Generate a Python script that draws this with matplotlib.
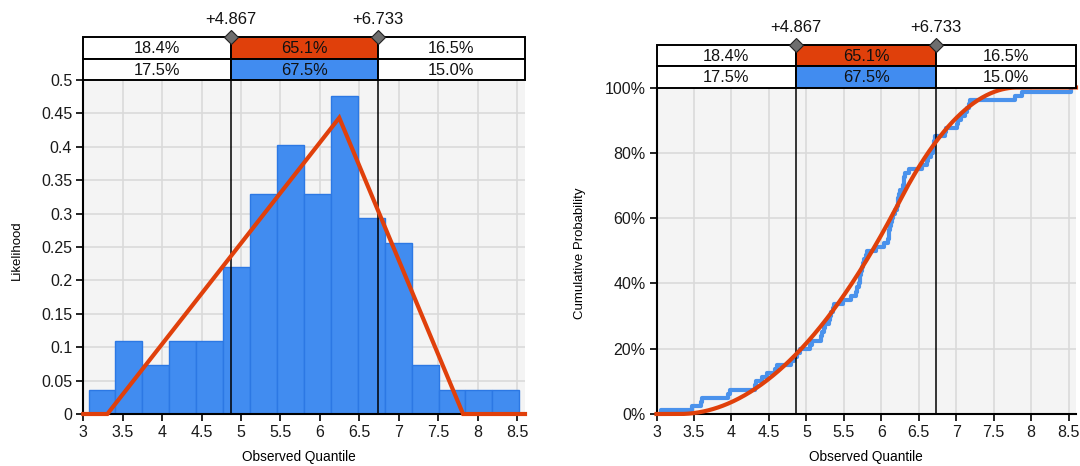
import numpy as np
import matplotlib
matplotlib.use("Agg")
import matplotlib.pyplot as plt
from matplotlib.patches import Rectangle
from matplotlib.transforms import blended_transform_factory

plt.rcParams["font.family"] = ["Liberation Sans", "DejaVu Sans"]

# Observed sample (sorted)
observed = [
    3.066,
    3.48, 3.59, 3.61,
    3.95, 3.98,
    4.31, 4.33, 4.41,
    4.47, 4.58, 4.61,
    4.80, 4.83, 4.88, 4.92, 5.05, 5.08,
    5.19, 5.21, 5.24, 5.25, 5.30, 5.32, 5.33, 5.35, 5.37,
    5.49, 5.60, 5.66, 5.67, 5.70, 5.71, 5.72, 5.73, 5.74, 5.75, 5.77,
    5.80, 5.81, 5.93, 6.04, 6.09, 6.10, 6.11, 6.12, 6.13,
    6.15, 6.16, 6.19, 6.21, 6.22, 6.23, 6.24, 6.25, 6.29, 6.30, 6.31, 6.32, 6.37,
    6.55, 6.61, 6.63, 6.67, 6.69, 6.70, 6.71, 6.72,
    6.85, 6.87, 7.01, 7.03, 7.06, 7.12, 7.14,
    7.17, 7.19,
    7.79,
    7.88,
    8.528,
]
n_bins = 16

# Fitted triangular distribution
tri_lower = 3.305
tri_mode = 6.245
tri_upper = 7.815

# Delimiters and probability bands
bounds = [4.867, 6.733]
bound_labels = ["+4.867", "+6.733"]
fitted_pct = ["18.4%", "65.1%", "16.5%"]
empirical_pct = ["17.5%", "67.5%", "15.0%"]

x_ticks = [3, 3.5, 4, 4.5, 5, 5.5, 6, 6.5, 7, 7.5, 8, 8.5]
x_tick_labels = ["3", "3.5", "4", "4.5", "5", "5.5", "6", "6.5", "7", "7.5", "8", "8.5"]
pdf_ticks = [0, 0.05, 0.1, 0.15, 0.2, 0.25, 0.3, 0.35, 0.4, 0.45, 0.5]
pdf_tick_labels = ["0", "0.05", "0.1", "0.15", "0.2", "0.25", "0.3", "0.35", "0.4", "0.45", "0.5"]
cdf_ticks = [0, 0.2, 0.4, 0.6, 0.8, 1.0]
cdf_tick_labels = ["0%", "20%", "40%", "60%", "80%", "100%"]

RED = "#e0400b"
BLUE = "#418cf0"
BLUE_EDGE = "#2c78e4"
STEP_BLUE = "#4a92ec"
BG = "#f4f4f4"
GRID = "#dadada"
XMIN, XMAX = 3.0, 8.6


def tri_pdf(x):
    x = np.asarray(x, dtype=float)
    a, c, b = tri_lower, tri_mode, tri_upper
    y = np.zeros_like(x)
    up = (x >= a) & (x <= c)
    dn = (x > c) & (x <= b)
    y[up] = 2 * (x[up] - a) / ((b - a) * (c - a))
    y[dn] = 2 * (b - x[dn]) / ((b - a) * (b - c))
    return y


def tri_cdf(x):
    x = np.asarray(x, dtype=float)
    a, c, b = tri_lower, tri_mode, tri_upper
    y = np.where(x <= a, 0.0, 1.0)
    up = (x > a) & (x <= c)
    dn = (x > c) & (x < b)
    y[up] = (x[up] - a) ** 2 / ((b - a) * (c - a))
    y[dn] = 1 - (b - x[dn]) ** 2 / ((b - a) * (b - c))
    return y


W, H = 1080, 466
fig = plt.figure(figsize=(W / 100, H / 100), dpi=100)


def px_axes(left, top, right, bottom):
    return fig.add_axes([left / W, 1 - bottom / H, (right - left) / W, (bottom - top) / H])


ax1 = px_axes(83.3, 80, 525, 414)
ax2 = px_axes(656.5, 87.5, 1076, 414)


def style_axes(ax, yticks, ylabels, ylim):
    ax.set_facecolor(BG)
    ax.set_xlim(XMIN, XMAX)
    ax.set_ylim(*ylim)
    ax.set_xticks(x_ticks)
    ax.set_xticklabels(x_tick_labels)
    ax.set_yticks(yticks)
    ax.set_yticklabels(ylabels)
    ax.grid(True, color=GRID, linewidth=1.2)
    ax.set_axisbelow(True)
    for s in ("top", "right"):
        ax.spines[s].set_visible(False)
    for s in ("left", "bottom"):
        ax.spines[s].set_linewidth(1.5)
        ax.spines[s].set_color("black")
        ax.spines[s].set_zorder(6)
    ax.tick_params(axis="both", direction="out", length=5, width=1.2,
                   labelsize=11.5, colors="black", labelcolor="#1a1a1a", pad=3)


def band_boxes(ax):
    bbox = ax.get_position()
    ax_h_px = bbox.height * H
    row = 21.3 / ax_h_px
    tr = blended_transform_factory(ax.transData, ax.transAxes)
    edges = [XMIN, bounds[0], bounds[1], XMAX]
    rows = [(1 + row, fitted_pct, RED), (1, empirical_pct, BLUE)]
    for y0, labels, fill in rows:
        for i in range(3):
            fc = fill if i == 1 else "white"
            ax.add_patch(Rectangle((edges[i], y0), edges[i + 1] - edges[i], row,
                                   transform=tr, facecolor=fc, edgecolor="black",
                                   linewidth=1.4, clip_on=False, zorder=8))
            ax.text((edges[i] + edges[i + 1]) / 2, y0 + row / 2 - 0.002, labels[i],
                    transform=tr, ha="center", va="center", fontsize=11.8,
                    color="#111111", zorder=9, clip_on=False)
    top = 1 + 2 * row
    for b, lab in zip(bounds, bound_labels):
        ax.plot([b], [top], transform=tr, marker="D", markersize=7,
                markerfacecolor="#6e6e6e", markeredgecolor="#222222",
                markeredgewidth=0.8, clip_on=False, zorder=10)
        ax.text(b, top + 0.03, lab, transform=tr, ha="center", va="bottom",
                fontsize=12, color="#111111", clip_on=False)
    for b in bounds:
        ax.axvline(b, color="black", linewidth=1.1, zorder=5)


# Left panel: histogram with fitted density
style_axes(ax1, pdf_ticks, pdf_tick_labels, (0, 0.5))
ax1.hist(observed, bins=n_bins, range=(min(observed), max(observed)), density=True,
         color=BLUE, edgecolor=BLUE_EDGE, linewidth=1.0, zorder=3)
xs_pdf = np.array([XMIN, tri_lower, tri_mode, tri_upper, XMAX])
ax1.plot(xs_pdf, tri_pdf(xs_pdf), color=RED, linewidth=3, zorder=7,
         clip_on=False, solid_joinstyle="miter")
band_boxes(ax1)

# Right panel: empirical vs fitted cumulative distribution
style_axes(ax2, cdf_ticks, cdf_tick_labels, (0, 1))
xs_obs = np.sort(np.asarray(observed))
n = len(xs_obs)
step_x = np.concatenate([[xs_obs[0]], xs_obs])
step_y = np.concatenate([[0.0], np.arange(1, n + 1) / n])
ax2.step(step_x, step_y, where="post", color=STEP_BLUE, linewidth=3, zorder=3)
xs_cdf = np.linspace(XMIN, XMAX, 600)
ax2.plot(xs_cdf, tri_cdf(xs_cdf), color=RED, linewidth=3, zorder=7, clip_on=False)
band_boxes(ax2)

fig.text(17 / W, 1 - 250 / H, "Likelihood", rotation=90, ha="center", va="center", fontsize=9.5)
fig.text(580 / W, 1 - 253 / H, "Cumulative Probability", rotation=90, ha="center",
         va="center", fontsize=9.5)
fig.text(299 / W, 1 - 457 / H, "Observed Quantile", ha="center", va="center", fontsize=9.8)
fig.text(866 / W, 1 - 457 / H, "Observed Quantile", ha="center", va="center", fontsize=9.8)

fig.savefig("out.png", dpi=100, facecolor="white")
